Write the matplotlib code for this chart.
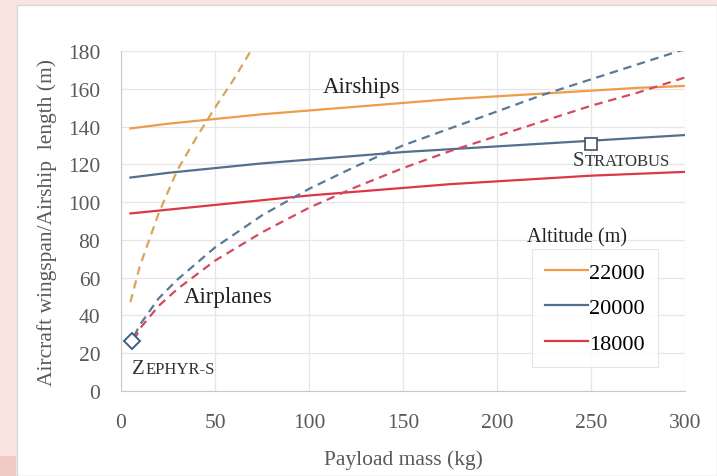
import matplotlib
matplotlib.use("Agg")
import matplotlib.pyplot as plt
from matplotlib.patches import Rectangle
from matplotlib.lines import Line2D
from matplotlib.offsetbox import TextArea, HPacker, AnnotationBbox

plt.rcParams['font.family'] = ['Liberation Serif', 'DejaVu Serif']

# payload mass (kg) for the airship curves
x_ship = [5, 25, 50, 75, 100, 125, 150, 175, 200, 225, 250, 275, 300]
ship_22000 = [139, 141.5, 144, 146.5, 148.5, 150.5, 152.5, 154.5, 156, 157.5, 159, 160.5, 161.5]
ship_20000 = [113, 115.5, 118, 120.5, 122.5, 124.5, 126.5, 128, 129.5, 131, 132.5, 134, 135.5]
ship_18000 = [94, 96, 98.5, 101, 103.5, 105.5, 107.5, 109.5, 111, 112.5, 114, 115, 116]

# airplane curves (dashed)
x_plane_22000 = [5, 10, 20, 30, 40, 50, 60, 69]
plane_22000 = [47, 66, 94, 117, 134, 150, 165, 180]
x_plane = [7, 10, 20, 30, 50, 75, 100, 125, 150, 175, 200, 225, 250, 275, 300]
plane_20000 = [29, 35, 49, 59, 76, 93, 107, 119, 130, 139, 148, 157, 165, 173, 181]
plane_18000 = [27, 33, 45, 54, 69, 84, 97, 108, 118, 127, 135, 143, 151, 158, 166]

# reference vehicles
zephyr = (6, 26.5)
stratobus = (250, 131)

altitudes = ['22000', '20000', '18000']
c_solid = ['#ee9c48', '#52708e', '#dc3843']
c_dash = ['#d9a45c', '#5a7898', '#d44a5e']

fig = plt.figure(figsize=(7.17, 4.77), dpi=100)
fig.patch.set_facecolor('#f9e4df')
# white panel behind the chart
panel = Rectangle((17 / 717, 0), 1 - 17 / 717, 1 - 6 / 477,
                  transform=fig.transFigure, facecolor='white',
                  edgecolor='#d8d8d8', linewidth=1.0, zorder=-2)
corner = Rectangle((0, 0), 16 / 717, 20 / 477, transform=fig.transFigure,
                   facecolor='#efc9c4', edgecolor='none', zorder=-2)
fig.add_artist(panel)
fig.add_artist(corner)

ax = fig.add_axes([121 / 717, 1 - 392 / 477, 564 / 717, 340 / 477])
ax.set_zorder(1)
ax.set_facecolor('white')

for ys, c in zip([ship_22000, ship_20000, ship_18000], c_solid):
    ax.plot(x_ship, ys, color=c, lw=1.6, zorder=3)

dash = (0, (3.8, 2.6))
ax.plot(x_plane_22000, plane_22000, color=c_dash[0], lw=1.6, ls=dash, zorder=3)
ax.plot(x_plane, plane_20000, color=c_dash[1], lw=1.6, ls=dash, zorder=3)
ax.plot(x_plane, plane_18000, color=c_dash[2], lw=1.6, ls=dash, zorder=3)

ax.plot(*zephyr, marker='D', ms=8, mfc='white', mec='#3d5f85', mew=1.4, zorder=5)
ax.plot(*stratobus, marker='s', ms=9, mfc='white', mec='#3d5166', mew=1.2, zorder=5)


def small_caps(word, xy, offset):
    big = TextArea(word[0], textprops=dict(fontsize=15, color='#333333'))
    rest = TextArea(word[1:], textprops=dict(fontsize=12, color='#333333'))
    box = HPacker(children=[big, rest], align='baseline', pad=0, sep=0)
    ab = AnnotationBbox(box, xy, xybox=offset, xycoords='data',
                        boxcoords='offset points', frameon=False,
                        box_alignment=(0, 0.5), zorder=6)
    ax.add_artist(ab)


small_caps('ZEPHYR-S', zephyr, (0, -20))
small_caps('STRATOBUS', stratobus, (-13, -12))

ax.text(128, 161, 'Airships', fontsize=16.5, ha='center', va='center', color='#222222')
ax.text(57, 50, 'Airplanes', fontsize=16.5, ha='center', va='center', color='#222222')

ax.set_xlim(0, 300)
ax.set_ylim(0, 180)
ax.set_xticks(range(0, 301, 50))
ax.set_yticks(range(0, 181, 20))
ax.grid(True, color='#e6e6e6', lw=0.9)
ax.set_axisbelow(True)
for s in ['top', 'right']:
    ax.spines[s].set_visible(False)
for s in ['left', 'bottom']:
    ax.spines[s].set_color('#c8c8c8')
ax.tick_params(length=0, labelsize=15.5, labelcolor='#595959')
ax.tick_params(axis='y', pad=15)
ax.tick_params(axis='x', pad=16)
ax.set_xlabel('Payload mass (kg)', fontsize=15.5, color='#595959', labelpad=12)
ax.set_ylabel('Aircraft wingspan/Airship  length (m)', fontsize=15.5, color='#595959', labelpad=8)

handles = [Line2D([], [], color=c, lw=1.6) for c in c_solid]
leg = ax.legend(handles, altitudes, loc='upper left', bbox_to_anchor=(0.729, 0.418),
                borderaxespad=0, fontsize=16, frameon=True, handlelength=1.9,
                handletextpad=0.05, labelspacing=0.67, borderpad=0.6, fancybox=False)
leg.get_frame().set_edgecolor('#e0e0e0')
leg.get_frame().set_linewidth(0.8)
ax.text(0.808, 0.453, 'Altitude (m)', transform=ax.transAxes, fontsize=14.5,
        ha='center', va='center', color='#222222')

fig.savefig('out.png', dpi=100, facecolor=fig.get_facecolor())
